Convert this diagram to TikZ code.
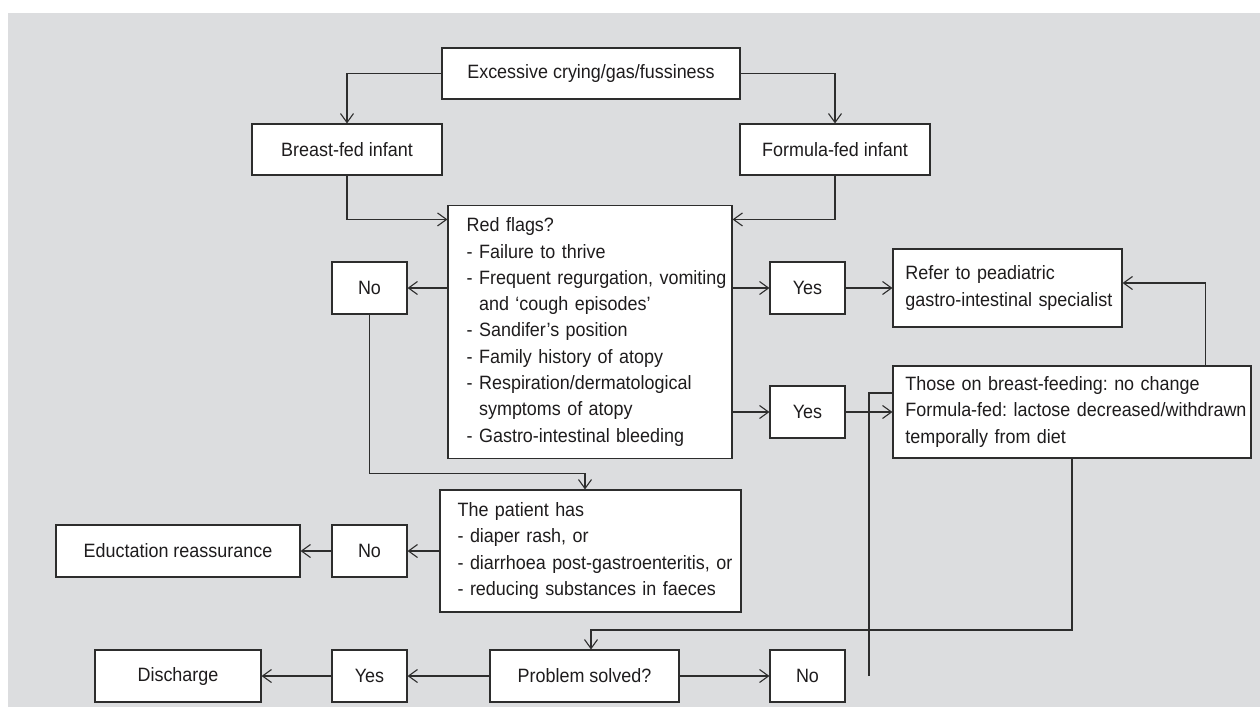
\documentclass[tikz,border=0pt]{standalone}
\usepackage{fontspec}
\setmainfont{Liberation Sans}[FakeStretch=0.93]
\usepackage{tikz}
\usetikzlibrary{arrows.meta}
\definecolor{bggray}{RGB}{220,221,223}
\definecolor{inkgray}{RGB}{45,45,45}
\definecolor{textgray}{RGB}{30,28,29}
\tikzset{
  >={Straight Barb[length=9pt,width=13pt]},
  box/.style={draw=inkgray, fill=white, line width=1.1pt, inner sep=0pt, text=textgray,
    font=\fontsize{19.3}{26.3}\selectfont\frenchspacing, minimum height=52pt},
  listbox/.style={box, align=left, inner xsep=0pt, text width=#1},
  link/.style={draw=inkgray, line width=1.1pt},
}

\begin{document}
\begin{tikzpicture}[x=1pt, y=-1pt]

                \fill[white] (0,0) rectangle (1260,707);
                \fill[bggray] (8,13) rectangle (1260,707);
                \useasboundingbox (0,0) rectangle (1260,707);

                \node[box, minimum width=298pt, minimum height=51pt] (crying) at (591,73.5) {Excessive crying/gas/fussiness};
                \node[box, minimum width=190pt, minimum height=51pt] (breast) at (347,149.5) {Breast-fed infant};
                \node[box, minimum width=190pt, minimum height=51pt] (formula) at (835,149.5) {Formula-fed infant};
                \node[listbox=284pt, minimum height=253pt] (redflags) at (590,332) {\leftskip=18.7pt Red flags?\\- Failure to thrive\\- Frequent regurgation, vomiting\\\phantom{- }and ‘cough episodes’\\- Sandifer’s position\\- Family history of atopy\\- Respiration/dermatological\\\phantom{- }symptoms of atopy\\- Gastro-intestinal bleeding\par};
                \node[box, minimum width=75pt] (noA) at (369.5,288) {No};
                \node[box, minimum width=75pt] (yesA) at (807.5,288) {Yes};
                \node[listbox=229pt, minimum height=78pt] (refer) at (1007.5,288) {\leftskip=12.4pt Refer to peadiatric\\gastro-intestinal specialist\par};
                \node[box, minimum width=75pt] (yesB) at (807.5,412) {Yes};
                \node[listbox=358pt, minimum height=92pt] (those) at (1072,412) {\leftskip=12.4pt Those on breast-feeding: no change\\Formula-fed: lactose decreased/withdrawn\\temporally from diet\par};
                \node[listbox=301pt, minimum height=122pt] (patient) at (590.5,551) {\leftskip=17.6pt The patient has\\- diaper rash, or\\- diarrhoea post-gastroenteritis, or\\- reducing substances in faeces\par};
                \node[box, minimum width=75pt] (noB) at (369.5,551) {No};
                \node[box, minimum width=244pt] (educ) at (178,551) {Eductation reassurance};
                \node[box, minimum width=189pt] (problem) at (584.5,676) {Problem solved?};
                \node[box, minimum width=75pt] (noC) at (807.5,676) {No};
                \node[box, minimum width=75pt] (yesC) at (369.5,676) {Yes};
                \node[box, minimum width=166pt] (discharge) at (178,676) {Discharge};
                \coordinate (loopend) at (869,676);

                \draw[link, ->] (crying.west) -| (breast.north);
                \draw[link, ->] (crying.east) -| (formula.north);
                \draw[link, ->] (breast.south) |- ([yshift=-14.5pt]redflags.north west);
                \draw[link, ->] (formula.south) |- ([yshift=-14.5pt]redflags.north east);
                \draw[link, ->] (redflags.west |- noA.east) -- (noA.east);
                \draw[link, ->] (redflags.east |- yesA.west) -- (yesA.west);
                \draw[link, ->] (yesA.east) -- (refer.west);
                \draw[link, ->] (redflags.east |- yesB.west) -- (yesB.west);
                \draw[link, ->] (yesB.east) -- (those.west);
                \draw[link, ->] ([xshift=133.7pt]those.north) |- ([yshift=5pt]refer.east);
                \draw[link, ->] (noA.south) |- ([xshift=-5.5pt,yshift=16pt]patient.north) -- ([xshift=-5.5pt]patient.north);
                \draw[link, ->] (patient.west) -- (noB.east);
                \draw[link, ->] (noB.west) -- (educ.east);
                \draw[link, ->] (those.south) |- ([xshift=6.5pt,yshift=19.5pt]problem.north) -- ([xshift=6.5pt]problem.north);
                \draw[link, ->] (problem.east) -- (noC.west);
                \draw[link, ->] (problem.west) -- (yesC.east);
                \draw[link, ->] (yesC.west) -- (discharge.east);
                \draw[link] (loopend) |- ([yshift=19pt]those.west);

            \end{tikzpicture}
\end{document}
